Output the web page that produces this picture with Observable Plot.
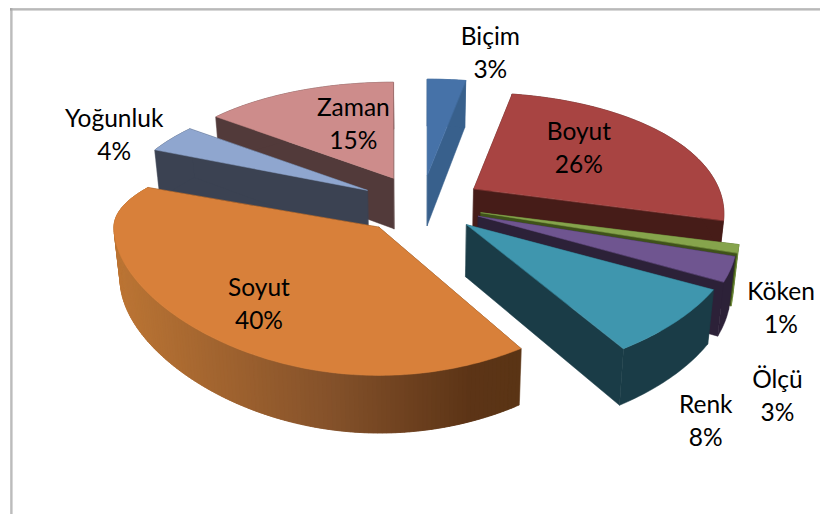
<!DOCTYPE html>
<html>
<head>
<meta charset="utf-8">
<style>html,body{margin:0;padding:0;background:#fff}svg{display:block}</style>
<script src="https://cdn.jsdelivr.net/npm/d3@7"></script>
<script src="https://cdn.jsdelivr.net/npm/@observablehq/plot@0.6"></script>
</head>
<body>
<div id="chart"></div>
<script>
// Data
const categories = ["Biçim","Boyut","Köken","Ölçü","Renk","Soyut","Yoğunluk","Zaman"];
const shares = [3,26,1,3,8,40,4,15];
const topColors = ["#4672a8","#a84442","#86a44c","#6f5590","#3f96ae","#d8803a","#8fa6cf","#cd8c8b"];
const wallColors = ["#38608c","#461c18","#3f5219","#2c2138","#1a3c47","#5a3415","#3b4252","#523a3a"];
const rimColors = ["#38608c","#461c18","#76953f","#2c2138","#1a3c47",null,"#3b4252","#523a3a"];
// Painter's order (back to front), indices into categories
const paintOrder = [0,7,1,6,2,3,4,5];

// Layout of the tilted, exploded pie in chart units
const pie = {cx:421, cy:204, ex:62, ey:29.5, A:245, kx:0.2, B:120, ky:0.25};
const sliceTweaks = {
  "Köken":{A:253},
  "Ölçü":{A:253},
  "Renk":{A:268, kx:0.1, B:122, ky:0.2},
  "Soyut":{A:265, kx:0, B:123, ky:0.17, Bback:81, shiftX:-3, endTrim:7.7}
};
const labelOffsets = {"Biçim":[63,-124],"Boyut":[105,-43],"Köken":[300,93],"Ölçü":[299,178],"Renk":[239,194],"Soyut":[-120,75],"Yoğunluk":[-253,-57],"Zaman":[-40,-56]};

const rad = d => d * Math.PI / 180;
function apex(mid, t){
  return [pie.cx + pie.ex*Math.sin(mid) + (t.shiftX ?? 0), pie.cy - pie.ey*Math.cos(mid)];
}
function rimPoint(a, th, t){
  const c = Math.cos(th), s = Math.sin(th);
  const o = {...pie, ...t};
  const dy = (c > 0 && o.Bback) ? o.Bback*c : o.B*c/(1+o.ky*c);
  return [a[0] + o.A*s/(1+o.kx*c), a[1] - dy];
}
function drop(p){
  return [pie.cx + (p[0]-pie.cx)*0.98, p[1] + 47 + 0.036*(p[1]-80)];
}
const faces = [];
const labels = [];
let id = 0;
function face(pts, color){
  id++;
  for (const p of pts) faces.push({x:p[0], y:p[1], id, color});
}
let cum = 0;
const sliceInfo = shares.map((v,i)=>{
  const a0 = rad(cum*3.6); cum += v; const a1 = rad(cum*3.6);
  return {i, a0, a1, mid:(a0+a1)/2};
});
const soyutRamp = d3.scaleLinear().domain([120,330,470,520]).range(["#ba7434","#84512a","#5c3416","#5a3415"]);
for (const k of paintOrder){
  const {i,a0,mid} = sliceInfo[k];
  const t = sliceTweaks[categories[i]] ?? {};
  const a1 = sliceInfo[k].a1 + rad(t.endTrim ?? 0);
  const A = apex(mid, t);
  const n = Math.max(2, Math.ceil((a1-a0)/rad(1)));
  const arc = d3.range(n+1).map(j=>rimPoint(A, a0+(a1-a0)*j/n, t));
  // radial walls
  face([A, arc[0], drop(arc[0]), drop(A)], wallColors[i]);
  face([A, arc[n], drop(arc[n]), drop(A)], wallColors[i]);
  // rim wall
  if (rimColors[i]) {
    face([...arc, ...arc.map(drop).reverse()], rimColors[i]);
  } else {
    for (let j=0;j<n;j++){
      const e = Math.min(n, j+2);
      const mx = (arc[j][0]+arc[j+1][0])/2;
      face([arc[j],arc[e],drop(arc[e]),drop(arc[j])], soyutRamp(mx));
    }
  }
  // top
  face([A, ...arc], topColors[i]);
  const off = labelOffsets[categories[i]];
  labels.push({x:A[0]+off[0], y:A[1]+off[1], text:`${categories[i]}\n${shares[i]}%`});
}

const chart = Plot.plot({
  width:820, height:514,
  margin:0,
  x:{domain:[0,820], range:[0,820], axis:null},
  y:{domain:[0,514], range:[0,514], axis:null},
  style:{background:"#fff"},
  marks:[
    Plot.ruleY([8.5],{x1:10,x2:820,stroke:"#858585",strokeWidth:1}),
    Plot.ruleY([9.5],{x1:10,x2:820,stroke:"#b0b0b0",strokeWidth:1}),
    Plot.ruleX([10.5],{y1:8,y2:514,stroke:"#8f8f8f",strokeWidth:1}),
    Plot.ruleX([11.5],{y1:8,y2:514,stroke:"#b0b0b0",strokeWidth:1}),
    Plot.line(faces,{x:"x",y:"y",z:"id",fill:"color",stroke:"color",strokeWidth:0.5,curve:"linear-closed"}),
    Plot.text(labels,{x:"x",y:"y",text:"text",fontFamily:"Lato",fontSize:24.5,lineHeight:1.34,fill:"#000"})
  ]
});
document.getElementById("chart").appendChild(chart);
</script>
</body>
</html>
